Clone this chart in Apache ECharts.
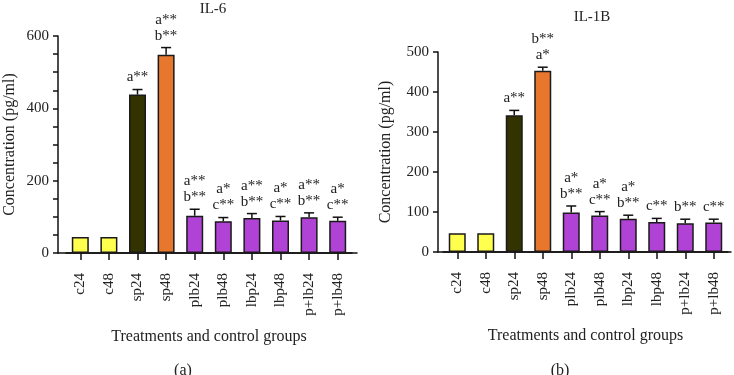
<!DOCTYPE html>
<html>
<head>
<meta charset="utf-8">
<script src="https://cdn.jsdelivr.net/npm/echarts@6/dist/echarts.min.js"></script>
<style>
  html, body { margin: 0; padding: 0; background: #fff; }
  #main { width: 734px; height: 375px; }
</style>
</head>
<body>
<div id="main"></div>
<script>
var groups = ['c24', 'c48', 'sp24', 'sp48', 'plb24', 'plb48', 'lbp24', 'lbp48', 'p+lb24', 'p+lb48'];

// IL-6 (pg/ml)
var il6Mean = [44, 44, 438, 548, 103, 88, 97, 90, 99, 89];
var il6Err = [0, 0, 14, 20, 18, 10, 12, 11, 12, 10];
var il6Notes = ['', '', 'a**', 'a**\nb**', 'a**\nb**', 'a*\nc**', 'a**\nb**', 'a*\nc**', 'a**\nb**', 'a*\nc**'];

// IL-1B (pg/ml)
var il1bMean = [47, 47, 342, 453, 99, 91, 83, 75, 72, 74];
var il1bErr = [0, 0, 12, 9, 16, 10, 9, 9, 10, 8];
var il1bNotes = ['', '', 'a**', 'b**\na*', 'a*\nb**', 'a*\nc**', 'a*\nb**', 'c**', 'b**', 'c**'];

var barColors = ['#FFFF4D', '#FFFF4D', '#333300', '#E8772E', '#B142D6', '#B142D6', '#B142D6', '#B142D6', '#B142D6', '#B142D6'];

var FONT = '"Liberation Serif", "DejaVu Serif", serif';
var chart = echarts.init(document.getElementById('main'));

function barData(vals) {
    return vals.map(function (v, i) {
        return { value: v, itemStyle: { color: barColors[i] } };
    });
}

function errData(mean, err, notes) {
    return mean.map(function (m, i) {
        return [i, m, err[i], notes[i]];
    });
}

// error bar + significance letters above it
function renderErr(params, api) {
    var i = api.value(0);
    var m = api.value(1);
    var e = api.value(2);
    var note = params.context.notes[params.dataIndex];
    var top = api.coord([i, m]);
    var cap = api.coord([i, m + e]);
    var children = [];
    if (e > 0) {
        children.push({
            type: 'line',
            shape: { x1: top[0], y1: top[1], x2: cap[0], y2: cap[1] },
            style: { stroke: '#111', lineWidth: 1.5 }
        });
        children.push({
            type: 'line',
            shape: { x1: cap[0] - 5, y1: cap[1], x2: cap[0] + 5, y2: cap[1] },
            style: { stroke: '#111', lineWidth: 1.5 }
        });
    }
    if (note) {
        children.push({
            type: 'text',
            style: {
                x: cap[0], y: cap[1] - 4,
                text: note,
                align: 'center', verticalAlign: 'bottom',
                font: '15px ' + FONT, lineHeight: 16, fill: '#222'
            }
        });
    }
    return { type: 'group', children: children };
}

function catAxis(grid) {
    return {
        type: 'category', gridIndex: grid, data: groups,
        name: 'Treatments and control groups', nameLocation: 'middle', nameGap: 76,
        nameTextStyle: { fontFamily: FONT, fontSize: 16, color: '#222' },
        axisLine: { show: true, lineStyle: { color: '#111', width: 1.5 } },
        axisTick: { show: true, alignWithLabel: true, length: 7, lineStyle: { color: '#111', width: 1.5 } },
        axisLabel: { rotate: 90, margin: 20, fontFamily: FONT, fontSize: 15, color: '#222' }
    };
}

function lineAxis(grid) {
    return {
        type: 'value', gridIndex: grid, min: 0, max: 1,
        axisLine: { show: true, lineStyle: { color: '#111', width: 1.5 } },
        axisTick: { show: false }, axisLabel: { show: false }, splitLine: { show: false }
    };
}

function valAxis(grid, max, interval, minor, offset, gap) {
    return {
        type: 'value', gridIndex: grid, min: 0, max: max, interval: interval, offset: offset,
        name: 'Concentration (pg/ml)', nameLocation: 'middle', nameGap: gap,
        nameTextStyle: { fontFamily: FONT, fontSize: 16, color: '#222' },
        axisLine: { show: true, lineStyle: { color: '#111', width: 1.5 } },
        axisTick: { show: true, length: 5, lineStyle: { color: '#111', width: 1.5 } },
        minorTick: { show: minor > 0, splitNumber: minor || 5, length: 5, lineStyle: { color: '#111', width: 1.5 } },
        axisLabel: { margin: 9, fontFamily: FONT, fontSize: 15, color: '#222' },
        splitLine: { show: false }
    };
}

var option = {
    backgroundColor: '#ffffff',
    animation: false,
    title: [
        { text: 'IL-6', left: 208, top: -3, textAlign: 'center', textStyle: { fontFamily: FONT, fontSize: 15, fontWeight: 'normal', color: '#222' } },
        { text: 'IL-1B', left: 587, top: 5, textAlign: 'center', textStyle: { fontFamily: FONT, fontSize: 15, fontWeight: 'normal', color: '#222' } },
        { text: '(a)', left: 178, top: 358, textAlign: 'center', textStyle: { fontFamily: FONT, fontSize: 16, fontWeight: 'normal', color: '#222' } },
        { text: '(b)', left: 555, top: 358, textAlign: 'center', textStyle: { fontFamily: FONT, fontSize: 16, fontWeight: 'normal', color: '#222' } }
    ],
    grid: [
        { left: 66, right: 382, top: 36, bottom: 122 },
        { left: 58, right: 377, top: 36, bottom: 122 },
        { left: 443, right: 6, top: 52, bottom: 123 },
        { left: 438, right: 3, top: 52, bottom: 123 }
    ],
    xAxis: [catAxis(0), lineAxis(1), catAxis(2), lineAxis(3)],
    yAxis: [
        valAxis(0, 600, 200, 4, 8, 40),
        { type: 'value', gridIndex: 1, show: false },
        valAxis(2, 500, 100, 0, 5, 44),
        { type: 'value', gridIndex: 3, show: false }
    ],
    series: [
        {
            type: 'bar', xAxisIndex: 0, yAxisIndex: 0, barWidth: 17,
            itemStyle: { borderColor: '#1a1a1a', borderWidth: 1.5 },
            data: barData(il6Mean)
        },
        {
            type: 'custom', xAxisIndex: 0, yAxisIndex: 0, z: 5,
            renderItem: function (p, api) { p.context.notes = il6Notes; return renderErr(p, api); },
            data: errData(il6Mean, il6Err, il6Notes)
        },
        {
            type: 'bar', xAxisIndex: 2, yAxisIndex: 2, barWidth: 17,
            itemStyle: { borderColor: '#1a1a1a', borderWidth: 1.5 },
            data: barData(il1bMean)
        },
        {
            type: 'custom', xAxisIndex: 2, yAxisIndex: 2, z: 5,
            renderItem: function (p, api) { p.context.notes = il1bNotes; return renderErr(p, api); },
            data: errData(il1bMean, il1bErr, il1bNotes)
        }
    ]
};

chart.setOption(option);
</script>
</body>
</html>
